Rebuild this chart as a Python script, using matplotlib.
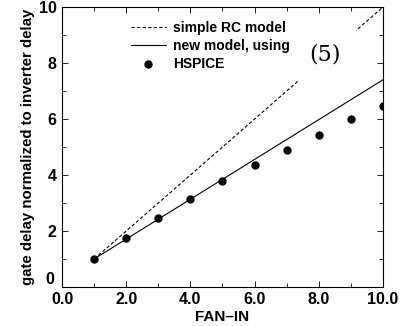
import numpy as np
import matplotlib
matplotlib.use("Agg")
from matplotlib import pyplot as plt
from matplotlib.ticker import MultipleLocator, FormatStrFormatter, FuncFormatter

plt.rcParams['font.family'] = ['Liberation Sans', 'DejaVu Sans']
plt.rcParams['font.weight'] = 'bold'

# fan-in values and delays (normalized to inverter delay)
fanin = [1, 2, 3, 4, 5, 6, 7, 8, 9, 10]
hspice = [1.0, 1.75, 2.46, 3.15, 3.77, 4.37, 4.88, 5.42, 6.0, 6.45]
model_x = [1, 10]
rc_model = [1.0, 10.0]
new_model = [1.0, 7.4]

fig = plt.figure(figsize=(4.09, 3.26), dpi=100)
ax = fig.add_axes([0.152, 0.12, 0.784, 0.858])

ax.plot(model_x, rc_model, 'k--', lw=0.8, dashes=(3, 2), label='simple RC model', zorder=1)
ax.plot(model_x, new_model, 'k-', lw=0.8, label='new model, using', zorder=2)
ax.plot(fanin, hspice, 'ko', ms=5, label='HSPICE', zorder=3)

# "(5)" label; its white box hides the middle of the dashed line
ax.text(8.2, 8.3, '(5)', family='DejaVu Serif', fontweight='normal', fontsize=16,
        ha='center', va='center', zorder=2.5,
        bbox=dict(boxstyle='square,pad=0.7', fc='white', ec='none'))

ax.set_xlim(0, 10)
ax.set_ylim(0, 10)
ax.xaxis.set_major_locator(MultipleLocator(2))
ax.xaxis.set_minor_locator(MultipleLocator(1))
ax.yaxis.set_major_locator(MultipleLocator(2))
ax.yaxis.set_minor_locator(MultipleLocator(1))
ax.xaxis.set_major_formatter(FormatStrFormatter('%.1f'))
# the "0" on the y axis sits a little higher, drawn separately below
ax.yaxis.set_major_formatter(FuncFormatter(lambda v, p: '' if v == 0 else '%d' % v))
ax.tick_params(which='both', direction='in', top=True, right=True, width=0.6,
               labelsize=11.5, pad=4)
ax.tick_params(which='major', length=4)
ax.tick_params(which='minor', length=3)
for s in ax.spines.values():
    s.set_linewidth(0.8)
ax.text(-0.025, 0.0, '0', transform=ax.get_yaxis_transform(), ha='right', va='bottom',
        fontsize=11.5, fontweight='bold')

ax.set_xlabel('FAN–IN', fontsize=11, fontweight='bold', labelpad=2)
ax.set_ylabel('gate delay normalized to inverter delay', fontsize=10.8, fontweight='bold', labelpad=3)

leg = ax.legend(loc='upper left', bbox_to_anchor=(0.18, 0.99), frameon=False,
                fontsize=10, handlelength=2.5, handletextpad=0.5,
                labelspacing=0.3, borderpad=0.3)
for t in leg.get_texts():
    t.set_fontweight('bold')

fig.savefig('out.png', dpi=100)
